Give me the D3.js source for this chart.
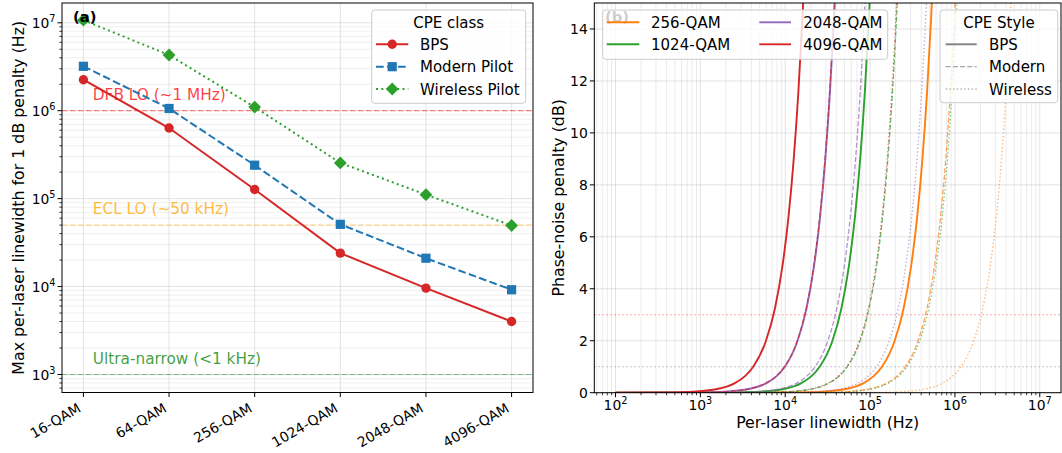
<!DOCTYPE html>
<html><head><meta charset="utf-8">
<script src="https://cdn.jsdelivr.net/npm/d3@7"></script>
<style>
body{margin:0;background:#fff}
svg{display:block}
text{font-family:"DejaVu Sans",sans-serif;fill:#000}
</style>
</head><body>
<svg id="c" width="1062" height="453"></svg>
<script>
// ---------------- DATA ----------------
// Panel (a): max per-laser linewidth for 1 dB penalty (Hz)
const categories = ["16-QAM","64-QAM","256-QAM","1024-QAM","2048-QAM","4096-QAM"];
const bpsLinewidth      = [2.25e6, 6.35e5, 1.27e5, 2.4e4, 9.6e3, 4.0e3];
const modernLinewidth   = [3.2e6, 1.06e6, 2.4e5, 5.1e4, 2.1e4, 9.2e3];
const wirelessLinewidth = [1.07e7, 4.3e6, 1.1e6, 2.55e5, 1.11e5, 4.95e4];
const cpeClassNames = ["BPS","Modern Pilot","Wireless Pilot"];
const refValues = [1e6, 5e4, 1e3];
const refLabels = ["DFB LO (~1 MHz)", "ECL LO (~50 kHz)", "Ultra-narrow (<1 kHz)"];
const yTicksA = [1e3, 1e4, 1e5, 1e6, 1e7];

// Panel (b): phase-noise penalty (dB) vs per-laser linewidth (Hz)
const penaltyDb = [0, 0.01, 0.04, 0.16, 0.36, 0.64, 1.0, 1.96, 3.24, 4.84, 6.76, 9.0, 11.56, 14.44, 16.0];
const lw256Bps      = [100, 13800, 27600, 55200, 82800, 110400, 138000, 193200, 248400, 303600, 358800, 414000, 469200, 524400, 552000];
const lw256Modern   = [100, 26000, 52000, 104000, 156000, 208000, 260000, 364000, 468000, 572000, 676000, 780000, 884000, 988000, 1040000];
const lw256Wireless = [100, 118000, 236000, 472000, 708000, 944000, 1180000, 1652000, 2124000, 2596000, 3068000, 3540000, 4012000, 4484000, 4720000];
const lw1024Bps      = [100, 2550, 5100, 10200, 15300, 20400, 25500, 35700, 45900, 56100, 66300, 76500, 86700, 96900, 102000];
const lw1024Modern   = [100, 5400, 10800, 21600, 32400, 43200, 54000, 75600, 97200, 118800, 140400, 162000, 183600, 205200, 216000];
const lw1024Wireless = [100, 27200, 54400, 108800, 163200, 217600, 272000, 380800, 489600, 598400, 707200, 816000, 924800, 1033600, 1088000];
const lw2048Bps      = [100, 990, 1980, 3960, 5940, 7920, 9900, 13860, 17820, 21780, 25740, 29700, 33660, 37620, 39600];
const lw2048Modern   = [100, 2250, 4500, 9000, 13500, 18000, 22500, 31500, 40500, 49500, 58500, 67500, 76500, 85500, 90000];
const lw2048Wireless = [100, 11900, 23800, 47600, 71400, 95200, 119000, 166600, 214200, 261800, 309400, 357000, 404600, 452200, 476000];
const lw4096Bps      = [100, 420, 840, 1680, 2520, 3360, 4200, 5880, 7560, 9240, 10920, 12600, 14280, 15960, 16800];
const lw4096Modern   = [100, 980, 1960, 3920, 5880, 7840, 9800, 13720, 17640, 21560, 25480, 29400, 33320, 37240, 39200];
const lw4096Wireless = [100, 5300, 10600, 21200, 31800, 42400, 53000, 74200, 95400, 116600, 137800, 159000, 180200, 201400, 212000];
const modulationsB = ["256-QAM","1024-QAM","2048-QAM","4096-QAM"];
const cpeStyles = ["BPS","Modern","Wireless"];
const thresholdsB = [3, 1];
const xTicksB = [1e2, 1e3, 1e4, 1e5, 1e6, 1e7];
const yTicksB = [0, 2, 4, 6, 8, 10, 12, 14];

// ---------------- SETUP ----------------
const FS = 13.9;     // tick labels
const FL = 15;       // legend
const FANN = 15.3;   // annotations
const FAX = 15.8;    // axis labels
const svg = d3.select("#c");
const GRID = "#b0b0b0";

function supLabel(sel, exp) {
  sel.append("tspan").text("10");
  sel.append("tspan").attr("dy", -6).attr("font-size", FS * 0.7).text(exp);
}

// ================= PANEL A =================
const A = {l: 62, r: 533, t: 3, b: 392.5};
const xA = d3.scaleLinear().domain([-0.25, 5.25]).range([A.l, A.r]);
const yA = d3.scaleLog().domain([Math.pow(10, 2.795), Math.pow(10, 7.225)]).range([A.b, A.t]);
const gA = svg.append("g");

const minorA = [];
for (let e = 2; e <= 7; e++) for (let k = 2; k < 10; k++) {
  const v = k * Math.pow(10, e);
  if (v > yA.domain()[0] && v < yA.domain()[1]) minorA.push(v);
}
gA.selectAll(".mgy").data(minorA).enter().append("line")
  .attr("x1", A.l).attr("x2", A.r).attr("y1", d => yA(d)).attr("y2", d => yA(d))
  .attr("stroke", GRID).attr("stroke-opacity", 0.25).attr("stroke-width", 0.8);
gA.selectAll(".gy").data(yTicksA).enter().append("line")
  .attr("x1", A.l).attr("x2", A.r).attr("y1", d => yA(d)).attr("y2", d => yA(d))
  .attr("stroke", GRID).attr("stroke-opacity", 0.45).attr("stroke-width", 0.8);
gA.selectAll(".gx").data(categories).enter().append("line")
  .attr("x1", (d, i) => xA(i)).attr("x2", (d, i) => xA(i)).attr("y1", A.t).attr("y2", A.b)
  .attr("stroke", GRID).attr("stroke-opacity", 0.45).attr("stroke-width", 0.8);

// reference lines
const refColors = ["#ff0000", "#ffa500", "#008000"];
refValues.forEach((v, i) => {
  gA.append("line").attr("x1", A.l).attr("x2", A.r).attr("y1", yA(v)).attr("y2", yA(v))
    .attr("stroke", refColors[i]).attr("stroke-opacity", 0.45).attr("stroke-width", 1.2)
    .attr("stroke-dasharray", "5.5,2.5");
  gA.append("text").attr("x", xA(0.11)).attr("y", yA(v) - 10.7)
    .attr("font-size", FANN).style("fill", refColors[i]).style("fill-opacity", 0.75)
    .text(refLabels[i]);
});

// series
const seriesA = [
  {name: cpeClassNames[0], vals: bpsLinewidth, color: "#d62728", dash: null, marker: "circle"},
  {name: cpeClassNames[1], vals: modernLinewidth, color: "#1f77b4", dash: "7.7,3.3", marker: "square"},
  {name: cpeClassNames[2], vals: wirelessLinewidth, color: "#2ca02c", dash: "2,3.3", marker: "diamond"}
];
function drawMarker(g, type, x, y, color) {
  if (type === "circle") g.append("circle").attr("cx", x).attr("cy", y).attr("r", 4.7).attr("fill", color);
  else if (type === "square") g.append("rect").attr("x", x - 4.6).attr("y", y - 4.6).attr("width", 9.2).attr("height", 9.2).attr("fill", color);
  else { const h = 6.4; g.append("path").attr("d", `M${x},${y-h}L${x+h},${y}L${x},${y+h}L${x-h},${y}Z`).attr("fill", color); }
}
const lineA = d3.line().x((d, i) => xA(i)).y(d => yA(d));
seriesA.forEach(s => {
  gA.append("path").attr("d", lineA(s.vals)).attr("fill", "none").attr("stroke", s.color)
    .attr("stroke-width", 2).attr("stroke-dasharray", s.dash);
  s.vals.forEach((v, i) => drawMarker(gA, s.marker, xA(i), yA(v), s.color));
});

// spines
gA.append("rect").attr("x", A.l).attr("y", A.t).attr("width", A.r - A.l).attr("height", A.b - A.t)
  .attr("fill", "none").attr("stroke", "#000").attr("stroke-width", 1);

// y ticks
gA.selectAll(".mty").data(minorA).enter().append("line")
  .attr("x1", A.l - 2.6).attr("x2", A.l).attr("y1", d => yA(d)).attr("y2", d => yA(d)).attr("stroke", "#000").attr("stroke-width", 0.8);
gA.selectAll(".ty").data(yTicksA).enter().append("line")
  .attr("x1", A.l - 4.5).attr("x2", A.l).attr("y1", d => yA(d)).attr("y2", d => yA(d)).attr("stroke", "#000").attr("stroke-width", 1);
yTicksA.forEach(v => {
  const t = gA.append("text").attr("x", A.l - 6.5).attr("y", yA(v) + 5.3).attr("text-anchor", "end").attr("font-size", FS);
  supLabel(t, Math.round(Math.log10(v)));
});
// x ticks
categories.forEach((c, i) => {
  gA.append("line").attr("x1", xA(i)).attr("x2", xA(i)).attr("y1", A.b).attr("y2", A.b + 4.5).attr("stroke", "#000");
  gA.append("text").attr("transform", `translate(${xA(i) - 1.5},${411}) rotate(-30)`)
    .attr("text-anchor", "end").attr("font-size", FS).text(c);
});
gA.append("text").attr("transform", `translate(23.5,${(A.t + A.b) / 2}) rotate(-90)`)
  .attr("text-anchor", "middle").attr("font-size", FAX).text("Max per-laser linewidth for 1 dB penalty (Hz)");
gA.append("text").attr("x", 73).attr("y", 21.5).attr("font-size", 14.8).attr("font-weight", "bold").text("(a)");

// legend A
const lgA = gA.append("g");
lgA.append("rect").attr("x", 371.7).attr("y", 10).attr("width", 154).attr("height", 93.3).attr("rx", 3)
  .attr("fill", "#fff").attr("fill-opacity", 0.8).attr("stroke", "#cccccc").attr("stroke-width", 1);
lgA.append("text").attr("x", 448.7).attr("y", 27.6).attr("text-anchor", "middle").attr("font-size", FL).text("CPE class");
const rowsA = [44.3, 66.7, 89];
seriesA.forEach((s, i) => {
  lgA.append("line").attr("x1", 376).attr("x2", 408.3).attr("y1", rowsA[i]).attr("y2", rowsA[i])
    .attr("stroke", s.color).attr("stroke-width", 2).attr("stroke-dasharray", s.dash);
  drawMarker(lgA, s.marker, 392.2, rowsA[i], s.color);
  lgA.append("text").attr("x", 420).attr("y", rowsA[i] + 5.6).attr("font-size", FL).text(s.name);
});

// ================= PANEL B =================
const B = {l: 594.3, r: 1061, t: 3, b: 392.7};
const xB = d3.scaleLog().domain([Math.pow(10, 1.75), Math.pow(10, 7.25)]).range([B.l, B.r]);
const yB = d3.scaleLinear().domain([0, 15]).range([B.b, B.t]);
const gB = svg.append("g");
svg.append("defs").append("clipPath").attr("id", "clipB").append("rect")
  .attr("x", B.l).attr("y", B.t).attr("width", B.r - B.l).attr("height", B.b - B.t);

const minorB = [];
for (let e = 1; e <= 7; e++) for (let k = 2; k < 10; k++) {
  const v = k * Math.pow(10, e);
  if (v > xB.domain()[0] && v < xB.domain()[1]) minorB.push(v);
}
gB.selectAll(".mgx").data(minorB).enter().append("line")
  .attr("x1", d => xB(d)).attr("x2", d => xB(d)).attr("y1", B.t).attr("y2", B.b)
  .attr("stroke", GRID).attr("stroke-opacity", 0.3).attr("stroke-width", 0.8);
gB.selectAll(".gx").data(xTicksB).enter().append("line")
  .attr("x1", d => xB(d)).attr("x2", d => xB(d)).attr("y1", B.t).attr("y2", B.b)
  .attr("stroke", GRID).attr("stroke-opacity", 0.45).attr("stroke-width", 0.8);
gB.selectAll(".gy").data(yTicksB).enter().append("line")
  .attr("x1", B.l).attr("x2", B.r).attr("y1", d => yB(d)).attr("y2", d => yB(d))
  .attr("stroke", GRID).attr("stroke-opacity", 0.45).attr("stroke-width", 0.8);

// threshold lines
const thrColors = ["#ff0000", "#808080"];
thresholdsB.forEach((v, i) => {
  gB.append("line").attr("x1", B.l).attr("x2", B.r).attr("y1", yB(v)).attr("y2", yB(v))
    .attr("stroke", thrColors[i]).attr("stroke-opacity", 0.45).attr("stroke-width", 1.2)
    .attr("stroke-dasharray", "1.5,2.5");
});

const modColors = {"256-QAM": "#ff7f0e", "1024-QAM": "#2ca02c", "2048-QAM": "#9467bd", "4096-QAM": "#d62728"};
const styleDefs = {
  "BPS": {dash: null, width: 1.9, opacity: 1},
  "Modern": {dash: "5,2.2", width: 1.3, opacity: 0.7},
  "Wireless": {dash: "1.4,2.3", width: 1.3, opacity: 0.6}
};
const curvesB = {
  "256-QAM": {"BPS": lw256Bps, "Modern": lw256Modern, "Wireless": lw256Wireless},
  "1024-QAM": {"BPS": lw1024Bps, "Modern": lw1024Modern, "Wireless": lw1024Wireless},
  "2048-QAM": {"BPS": lw2048Bps, "Modern": lw2048Modern, "Wireless": lw2048Wireless},
  "4096-QAM": {"BPS": lw4096Bps, "Modern": lw4096Modern, "Wireless": lw4096Wireless}
};
const lineB = d3.line().x(d => xB(d[0])).y(d => yB(d[1])).curve(d3.curveMonotoneX);
const gCurves = gB.append("g").attr("clip-path", "url(#clipB)");
modulationsB.forEach(m => {
  cpeStyles.forEach(st => {
    const xs = curvesB[m][st];
    const pts = xs.map((x, i) => [x, penaltyDb[i]]);
    const sd = styleDefs[st];
    gCurves.append("path").attr("d", lineB(pts)).attr("fill", "none")
      .attr("stroke", modColors[m]).attr("stroke-width", sd.width).attr("stroke-opacity", sd.opacity)
      .attr("stroke-dasharray", sd.dash);
  });
});

// spines
gB.append("rect").attr("x", B.l).attr("y", B.t).attr("width", B.r - B.l).attr("height", B.b - B.t)
  .attr("fill", "none").attr("stroke", "#000").attr("stroke-width", 1);
// ticks
gB.selectAll(".mtx").data(minorB).enter().append("line")
  .attr("x1", d => xB(d)).attr("x2", d => xB(d)).attr("y1", B.b).attr("y2", B.b + 2.6).attr("stroke", "#000").attr("stroke-width", 0.8);
xTicksB.forEach(v => {
  gB.append("line").attr("x1", xB(v)).attr("x2", xB(v)).attr("y1", B.b).attr("y2", B.b + 4.5).attr("stroke", "#000");
  const t = gB.append("text").attr("x", xB(v)).attr("y", 409.5).attr("text-anchor", "middle").attr("font-size", FS);
  supLabel(t, Math.round(Math.log10(v)));
});
yTicksB.forEach(v => {
  gB.append("line").attr("x1", B.l - 4.5).attr("x2", B.l).attr("y1", yB(v)).attr("y2", yB(v)).attr("stroke", "#000");
  gB.append("text").attr("x", B.l - 6.5).attr("y", yB(v) + 5.1).attr("text-anchor", "end").attr("font-size", FS).text(v);
});
gB.append("text").attr("transform", `translate(563.5,${(B.t + B.b) / 2}) rotate(-90)`)
  .attr("text-anchor", "middle").attr("font-size", FAX).text("Phase-noise penalty (dB)");
gB.append("text").attr("x", (B.l + B.r) / 2).attr("y", 428).attr("text-anchor", "middle").attr("font-size", FAX).text("Per-laser linewidth (Hz)");
gB.append("text").attr("x", 605).attr("y", 21.5).attr("font-size", 14.8).attr("font-weight", "bold").text("(b)");

// legend B left (modulation)
const lgB = gB.append("g");
lgB.append("rect").attr("x", 602.7).attr("y", 10).attr("width", 285).attr("height", 49.3).attr("rx", 3)
  .attr("fill", "#fff").attr("fill-opacity", 0.8).attr("stroke", "#cccccc").attr("stroke-width", 1);
const colX = [[606.7, 639.3, 651], [759.3, 791, 803.3]];
const rowYB = [22.3, 44.3];
modulationsB.forEach((m, i) => {
  const c = colX[Math.floor(i / 2)], ry = rowYB[i % 2];
  lgB.append("line").attr("x1", c[0]).attr("x2", c[1]).attr("y1", ry).attr("y2", ry)
    .attr("stroke", modColors[m]).attr("stroke-width", 1.9);
  lgB.append("text").attr("x", c[2]).attr("y", ry + 5.6).attr("font-size", FL).text(m);
});
// legend B right (style)
const lgS = gB.append("g");
lgS.append("rect").attr("x", 940).attr("y", 10).attr("width", 117.7).attr("height", 92.7).attr("rx", 3)
  .attr("fill", "#fff").attr("fill-opacity", 0.8).attr("stroke", "#cccccc").attr("stroke-width", 1);
lgS.append("text").attr("x", 999).attr("y", 27.6).attr("text-anchor", "middle").attr("font-size", FL).text("CPE Style");
cpeStyles.forEach((st, i) => {
  const sd = styleDefs[st];
  lgS.append("line").attr("x1", 945.7).attr("x2", 976.7).attr("y1", rowsA[i]).attr("y2", rowsA[i])
    .attr("stroke", "#808080").attr("stroke-width", sd.width).attr("stroke-opacity", sd.opacity)
    .attr("stroke-dasharray", sd.dash);
  lgS.append("text").attr("x", 989).attr("y", rowsA[i] + 5.6).attr("font-size", FL).text(st);
});
</script>
</body></html>
